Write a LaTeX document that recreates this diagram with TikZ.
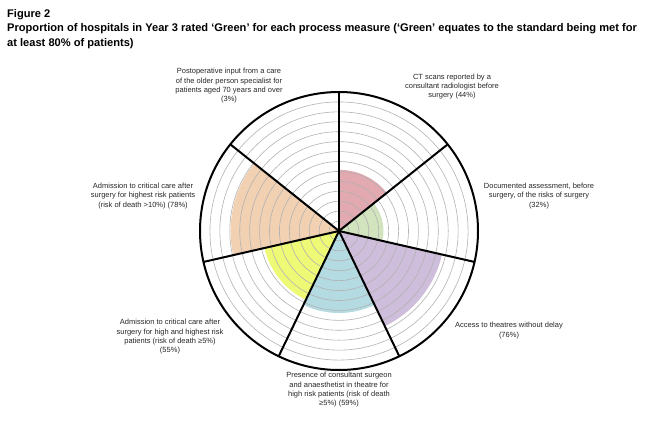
\documentclass[tikz,border=0pt]{standalone}
\usepackage{fontspec}
\setmainfont{Liberation Sans}
\usetikzlibrary{positioning}
\definecolor{ctpink}{RGB}{227,169,177}
\definecolor{docgreen}{RGB}{210,228,190}
\definecolor{accpurple}{RGB}{207,190,219}
\definecolor{presblue}{RGB}{180,218,226}
\definecolor{admyellow}{RGB}{238,250,118}
\definecolor{admorange}{RGB}{241,209,178}
\definecolor{postgrey}{RGB}{225,225,225}

\begin{document}
\begin{tikzpicture}[x=1pt, y=1pt]
% Define styles
\tikzstyle{label} = [align=center, font=\fontsize{7.5}{9.3}\selectfont, text=black!85, inner sep=0pt]
\tikzstyle{heading} = [anchor=north west, align=left, inner sep=0pt,
    font=\fontsize{11.1}{14.6}\selectfont\bfseries]
\tikzstyle{ring} = [draw=black!30, line width=0.6pt]
\tikzstyle{spoke} = [draw, line width=2pt]

\useasboundingbox (0,0) rectangle (648,424);
\coordinate (centre) at (339,193);

    % Sectors: start angle / percentage / colour
    \foreach \a/\p/\col in {90/44/ctpink, 38.57/32/docgreen, -12.86/76/accpurple,
        -64.29/59/presblue, -115.71/55/admyellow, -167.14/78/admorange, 141.43/3/postgrey}
      \fill [fill=\col] (centre) -- ++({\a}:{1.39*\p})
        arc [start angle=\a, end angle=\a-51.43, radius=1.39*\p] -- cycle;
    % Rings
    \foreach \k in {1,...,13}
      \draw [ring] (centre) circle [radius=\k*139/14];
    % Spokes and rim
    \foreach \a in {90, 38.57, -12.86, -64.29, -115.71, -167.14, 141.43}
      \draw [spoke] (centre) -- ++({\a}:139);
    \draw [spoke] (centre) circle [radius=139];

    % Place labels
    \node [heading] (title) at (7,415) {Figure 2\\Proportion of hospitals in Year 3 rated `Green' for each process measure (`Green' equates to the standard being met for\\at least 80\% of patients)};
    \node [label] (ct) at (452,337.5) {CT scans reported by a\\consultant radiologist before\\surgery (44\%)};
    \node [label] (doc) at (539,228) {Documented assessment, before\\surgery, of the risks of surgery\\(32\%)};
    \node [label] (access) at (509,93.5) {Access to theatres without delay\\(76\%)};
    \node [label] (presence) at (339,34) {Presence of consultant surgeon\\and anaesthetist in theatre for\\high risk patients (risk of death\\≥5\%) (59\%)};
    \node [label] (highrisk) at (170,87) {Admission to critical care after\\surgery for high and highest risk\\patients (risk of death ≥5\%)\\(55\%)};
    \node [label] (highest) at (143,228) {Admission to critical care after\\surgery for highest risk patients\\(risk of death >10\%) (78\%)};
    \node [label] (postop) at (229,338) {Postoperative input from a care\\of the older person specialist for\\patients aged 70 years and over\\(3\%)};
\end{tikzpicture}
\end{document}
